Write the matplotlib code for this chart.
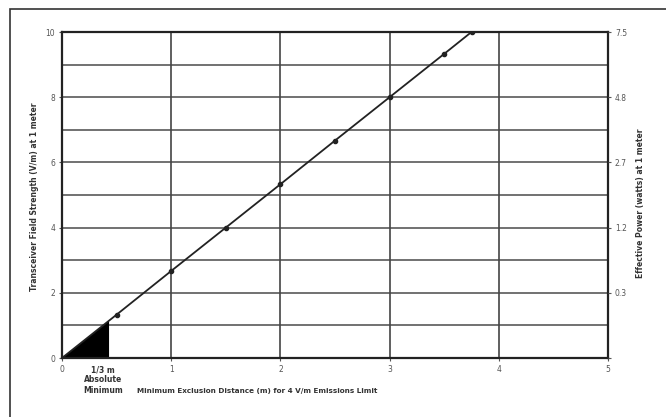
import numpy as np
import matplotlib
matplotlib.use('Agg')
import matplotlib.pyplot as plt
from matplotlib.patches import Rectangle

# data
distance = [0, 0.5, 1.0, 1.5, 2.0, 2.5, 3.0, 3.5, 3.75]
field = [0, 1.33, 2.67, 4.0, 5.33, 6.67, 8.0, 9.33, 10.0]
abs_min = 0.42
left_ticks = [0, 2, 4, 6, 8, 10]
left_labels = ['0', '2', '4', '6', '8', '10']
right_labels = ['', '0.3', '1.2', '2.7', '4.8', '7.5']
x_ticks = [0, 1, 2, 3, 4, 5]

fig = plt.figure(figsize=(6.66, 4.17), dpi=100)
ax = fig.add_axes([62/666, 1 - 358/417, (608 - 62)/666, (358 - 32)/417])

# outer frame of the figure (right/bottom edges run off the image)
fig.patches.append(Rectangle((10/666, -0.05), 1.0, 1 - 9/417 + 0.05,
                             transform=fig.transFigure, fill=False,
                             edgecolor='#333333', linewidth=1.2))

ax.set_xlim(0, 5)
ax.set_ylim(0, 10)
for y in range(1, 10):
    ax.axhline(y, color='#666666', linewidth=1.3, zorder=1)
for x in range(1, 5):
    ax.axvline(x, color='#444444', linewidth=1.2, zorder=1)

# shaded absolute-minimum triangle under the line
xs = np.array([0, abs_min])
ys = np.interp(xs, distance, field)
ax.fill_between(xs, 0, ys, color='black', zorder=2)

ax.plot(distance, field, color='#222222', linewidth=1.3, marker='o',
        markersize=3, zorder=3)

for s in ax.spines.values():
    s.set_color('#222222')
    s.set_linewidth(1.6)

ax.set_xticks(x_ticks)
ax.set_xticklabels([str(v) for v in x_ticks])
ax.set_yticks(left_ticks)
ax.set_yticklabels(left_labels)
ax.tick_params(labelsize=5.5, colors='#555555', length=2, pad=3)

ax2 = ax.twinx()
ax2.set_ylim(0, 10)
ax2.set_yticks(left_ticks)
ax2.set_yticklabels(right_labels)
ax2.tick_params(labelsize=5.5, colors='#555555', length=2, pad=3)
for s in ax2.spines.values():
    s.set_visible(False)

fig.text(257/666, 1 - 391/417, 'Minimum Exclusion Distance (m) for 4 V/m Emissions Limit',
         ha='center', va='center', fontsize=5.2, fontweight='bold', color='#333333')
fig.text(35/666, 1 - 197/417, 'Transceiver Field Strength (V/m) at 1 meter',
         ha='center', va='center', rotation=90, fontsize=5.5, fontweight='bold',
         color='#333333')
fig.text(641/666, 1 - 203/417, 'Effective Power (watts) at 1 meter',
         ha='center', va='center', rotation=90, fontsize=5.5, fontweight='bold',
         color='#333333')
fig.text(103/666, 1 - 380/417, '1/3 m\nAbsolute\nMinimum', ha='center', va='center',
         fontsize=5.5, fontweight='bold', color='#333333', linespacing=1.2)

fig.savefig('out.png', dpi=100)
